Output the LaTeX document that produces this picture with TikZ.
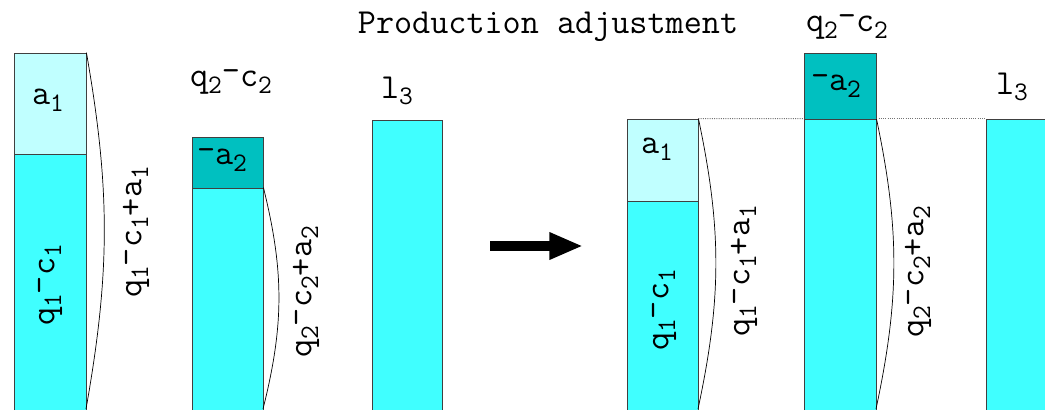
\documentclass[tikz,border=0pt]{standalone}
\usepackage{tikz}
\usetikzlibrary{arrows.meta,positioning,fit}
\definecolor{lightcyan}{RGB}{192,255,255}
\definecolor{barcyan}{RGB}{64,255,255}
\definecolor{darkteal}{RGB}{0,192,192}
\newcommand{\sbs}[1]{\raisebox{-0.45ex}{\fontsize{19}{19}\selectfont #1}}
\newcommand{\mns}{\raisebox{0.3ex}{-}}

\begin{document}
\begin{tikzpicture}[x=0.025cm,y=-0.025cm,font=\ttfamily\fontsize{25}{28}\selectfont,
        bar/.style={draw=black!75,fill=barcyan,inner sep=0pt,line width=0.6pt},
        topbar/.style={bar,fill=lightcyan},
        cutbar/.style={bar,fill=darkteal},
        brace/.style={draw=black,line width=0.5pt},
        level/.style={draw=black!55,densely dotted,line width=0.6pt}]
      \useasboundingbox (0,0) rectangle (1045,409);
      \clip (0,0) rectangle (1045,409);
      % before
      \node[topbar,fit={(14,53) (86,154)}] (a1l) {};
      \node[bar,fit={(14,154) (86,414)}] (b1l) {};
      \node[cutbar,fit={(192,137) (263,188)}] (a2l) {};
      \node[bar,fit={(192,188) (263,414)}] (b2l) {};
      \node[bar,fit={(372,120) (442,414)}] (b3l) {};
      \coordinate (e1l) at (86,409);
      \coordinate (e2l) at (263,409);
      \draw[brace] (a1l.north east) to[bend left=10] (e1l);
      \draw[brace] (b2l.north east) to[bend left=14] (e2l);
      \node at (48,100) {a\sbs{1}};
      \node[rotate=90] at (50,285) {q\sbs{1}\mns c\sbs{1}};
      \node[rotate=90] at (136,232) {q\sbs{1}\mns c\sbs{1}+a\sbs{1}};
      \node at (231,82) {q\sbs{2}\mns c\sbs{2}};
      \node at (222,160) {\mns a\sbs{2}};
      \node[rotate=90] at (306,292) {q\sbs{2}\mns c\sbs{2}+a\sbs{2}};
      \node at (397,91) {l\sbs{3}};
      % arrow
      \node[inner sep=1pt] (title) at (548,27) {Production adjustment};
      \coordinate (arrS) at (490,246);
      \coordinate (arrE) at (583,246);
      \draw[line width=7pt,-{Triangle[length=24pt,width=18pt]}] (arrS) -- (arrE);
      % after
      \node[topbar,fit={(627,119) (698,201)}] (a1r) {};
      \node[bar,fit={(627,201) (698,414)}] (b1r) {};
      \node[cutbar,fit={(804,53) (876,119)}] (a2r) {};
      \node[bar,fit={(804,119) (876,414)}] (b2r) {};
      \node[bar,fit={(986,119) (1060,414)}] (b3r) {};
      \coordinate (e1r) at (698,409);
      \coordinate (e2r) at (876,409);
      \draw[level] (a1r.north east) -- (b2r.north west);
      \draw[level] (b2r.north east) -- (b3r.north west);
      \draw[brace] (a1r.north east) to[bend left=12] (e1r);
      \draw[brace] (b2r.north east) to[bend left=12] (e2r);
      \node at (657,149) {a\sbs{1}};
      \node[rotate=90] at (664,310) {q\sbs{1}\mns c\sbs{1}};
      \node[rotate=90] at (744,271) {q\sbs{1}\mns c\sbs{1}+a\sbs{1}};
      \node[inner sep=1pt] at (847,27) {q\sbs{2}\mns c\sbs{2}};
      \node at (836,86) {\mns a\sbs{2}};
      \node[rotate=90] at (918,272) {q\sbs{2}\mns c\sbs{2}+a\sbs{2}};
      \node at (1012,87) {l\sbs{3}};
\end{tikzpicture}
\end{document}
